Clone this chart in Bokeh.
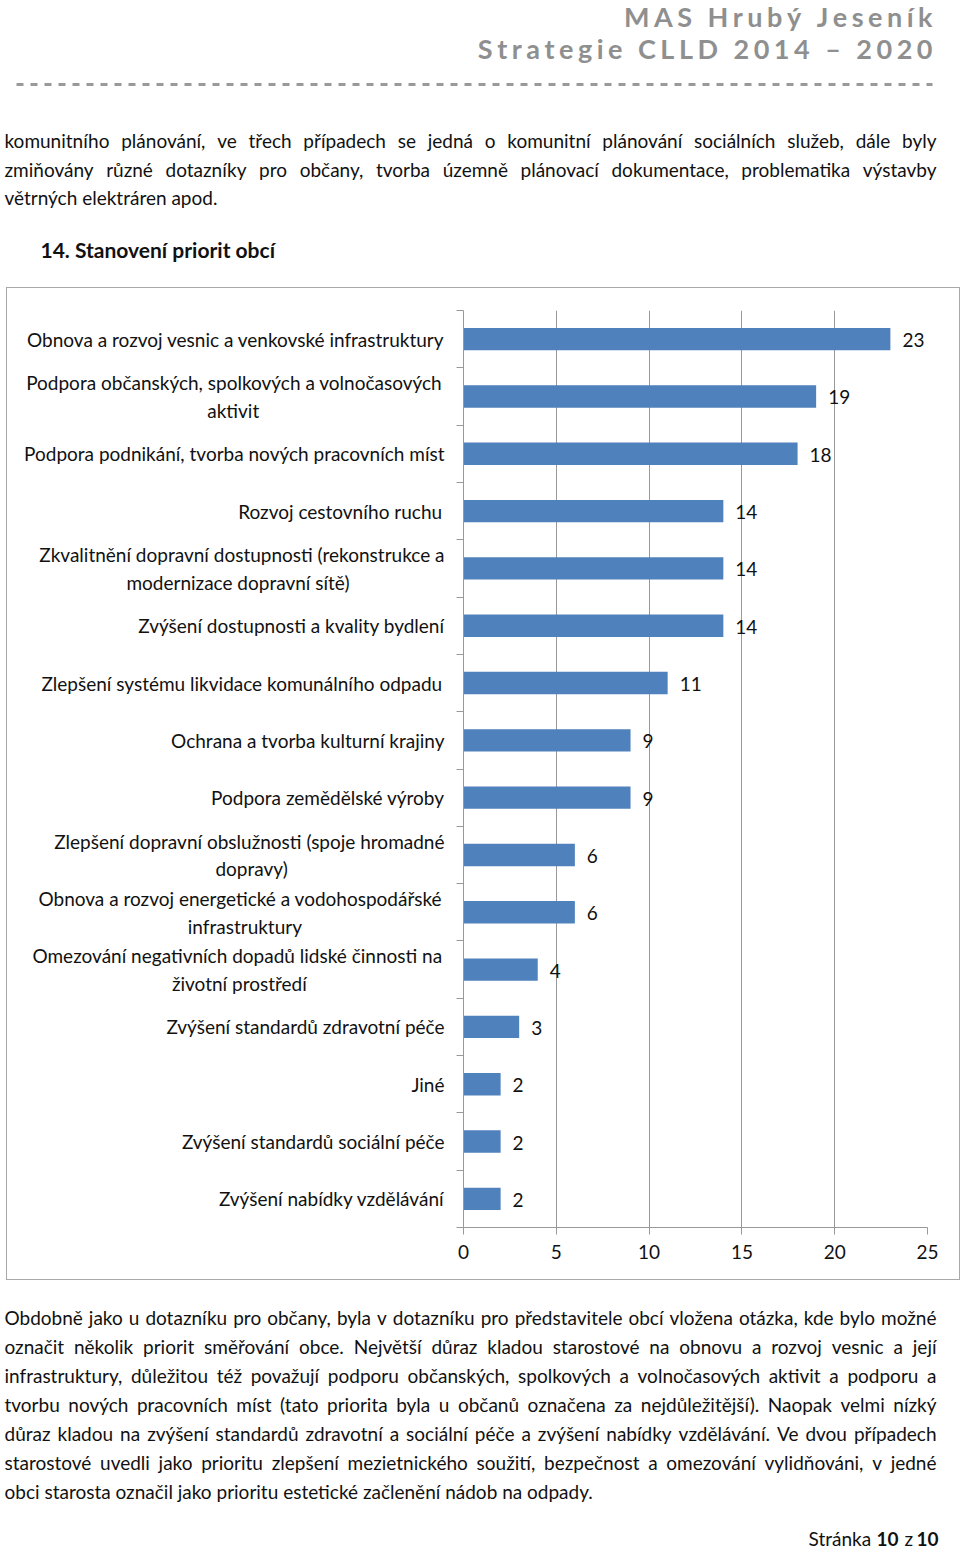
from bokeh.plotting import figure
from bokeh.layouts import column, row
from bokeh.models import (Range1d, FixedTicker, LinearAxis, ColumnDataSource, Grid, Spacer,
                          CustomJSTransform)
from bokeh.transform import transform
from bokeh.core.properties import value
from bokeh.embed import file_html
from bokeh.resources import INLINE

FONT = "Lato"
INK = "#111111"
GRAY = "#999999"

# ---------------- data ----------------
categories = [
    "Obnova a rozvoj vesnic a venkovské infrastruktury",
    "Podpora občanských, spolkových a volnočasových\naktivit",
    "Podpora podnikání, tvorba nových pracovních míst",
    "Rozvoj cestovního ruchu",
    "Zkvalitnění dopravní dostupnosti (rekonstrukce a\nmodernizace dopravní sítě)",
    "Zvýšení dostupnosti a kvality bydlení",
    "Zlepšení systému likvidace komunálního odpadu",
    "Ochrana a tvorba kulturní krajiny",
    "Podpora zemědělské výroby",
    "Zlepšení dopravní obslužnosti (spoje hromadné\ndopravy)",
    "Obnova a rozvoj energetické a vodohospodářské\ninfrastruktury",
    "Omezování negativních dopadů lidské činnosti na\nživotní prostředí",
    "Zvýšení standardů zdravotní péče",
    "Jiné",
    "Zvýšení standardů sociální péče",
    "Zvýšení nabídky vzdělávání",
]
counts = [23, 19, 18, 14, 14, 14, 11, 9, 9, 6, 6, 4, 3, 2, 2, 2]
x_ticks = [0, 5, 10, 15, 20, 25]

header_1 = "MAS Hrubý Jeseník"
header_2 = "Strategie CLLD 2014 – 2020"
intro_lines = [
    "komunitního plánování, ve třech případech se jedná o komunitní plánování sociálních služeb, dále byly",
    "zmiňovány různé dotazníky pro občany, tvorba územně plánovací dokumentace, problematika výstavby",
    "větrných elektráren apod.",
]
section_title = "14. Stanovení priorit obcí"
body_lines = [
    "Obdobně jako u dotazníku pro občany, byla v dotazníku pro představitele obcí vložena otázka, kde bylo možné",
    "označit několik priorit směřování obce. Největší důraz kladou starostové na obnovu a rozvoj vesnic a její",
    "infrastruktury, důležitou též považují podporu občanských, spolkových a volnočasových aktivit a podporu a",
    "tvorbu nových pracovních míst (tato priorita byla u občanů označena za nejdůležitější). Naopak velmi nízký",
    "důraz kladou na zvýšení standardů zdravotní a sociální péče a zvýšení nabídky vzdělávání. Ve dvou případech",
    "starostové uvedli jako prioritu zlepšení mezietnického soužití, bezpečnost a omezování vylidňováni, v jedné",
    "obci starosta označil jako prioritu estetické začlenění nádob na odpady.",
]
footer_parts = ["Stránka", "10", "z", "10"]

# layout only: centre the 2nd line of wrapped labels (trailing padding in px) and a trailing thin gap
EM_EFF = 14.25
second_line_pad = {1: 182, 4: 91, 9: 159, 10: 144, 11: 136}
first_line_gap = {1, 3, 6, 10, 11}


def pad_str(px):
    halves = int(round(px / EM_EFF * 2))
    return "\u2003" * (halves // 2) + ("\u2002" if halves % 2 else "")


def tick_label(i, c):
    lines = c.split("\n")
    if i in first_line_gap:
        lines[0] = lines[0] + "\u2009"
    if len(lines) > 1 and i in second_line_pad:
        lines[1] = lines[1] + pad_str(second_line_pad[i])
    return "\n".join(lines)


def spaced(s):
    return "\u2006".join(s)


def no_align(f):
    try:
        f.frame_align = False
    except Exception:
        pass


def page_fig(y_top, y_bottom):
    f = figure(frame_width=960, frame_height=y_bottom - y_top,
               x_range=Range1d(0, 960), y_range=Range1d(y_bottom, y_top),
               x_axis_location=None, y_axis_location=None, toolbar_location=None,
               output_backend="svg", min_border=0, outline_line_color=None, title=None)
    f.center = []
    no_align(f)
    return f


def put(f, x, y, txt, size="19px", align="left", style="normal", color=INK):
    f.text(x=[x], y=[y], text=[txt], text_font=value(FONT), text_font_size=size,
           text_align=align, text_baseline="middle", text_font_style=style, text_color=color)


JUSTIFY_JS = """
const ctx = document.createElement('canvas').getContext('2d');
ctx.font = font;
const space = ctx.measureText(' ').width;
const n = words.length;
const out = new Float64Array(n);
let i = 0;
while (i < n) {
  let j = i;
  while (j < n && line_id[j] === line_id[i]) j++;
  const w = [];
  let total = 0;
  for (let k = i; k < j; k++) { const m = ctx.measureText(words[k]).width; w.push(m); total += m; }
  const cnt = j - i;
  let gap = (just[i] && cnt > 1) ? (right - left - total) / (cnt - 1) : space;
  if (gap < space * 0.6) gap = space;
  let x = left;
  for (let k = i; k < j; k++) { out[k] = x; x += w[k - i] + gap; }
  i = j;
}
return out;
"""


def paragraph(f, lines, y0, dy, left=4, right=936, size=19):
    words, line_id, just, xs, yy = [], [], [], [], []
    for li, ln in enumerate(lines):
        last = li == len(lines) - 1
        parts = ln.split(" ")
        for k, w in enumerate(parts):
            words.append(w)
            line_id.append(li)
            just.append(0 if last else 1)
            xs.append(left + (right - left) * k / max(len(parts), 1))
            yy.append(y0 + dy * li)
    src = ColumnDataSource(dict(x=xs, y=yy, text=words))
    tr = CustomJSTransform(args=dict(words=words, line_id=line_id, just=just, left=left,
                                     right=right, font=f"{size}px {FONT}"),
                           v_func=JUSTIFY_JS)
    f.text(x=transform("x", tr), y="y", text="text", source=src, text_font=value(FONT),
           text_font_size=f"{size}px", text_align="left", text_baseline="middle", text_color=INK)


# ---------------- top of page ----------------
top = page_fig(0, 287)
put(top, 932, 16, spaced(header_1), size="27px", align="right", style="bold", color="#8f8f8f")
put(top, 932, 48, spaced(header_2), size="27px", align="right", style="bold", color="#8f8f8f")
top.line(x=[16, 932], y=[84, 84], line_width=3, line_dash="7 7", line_color="#9a9a9a")
paragraph(top, intro_lines, 140, 28.7)
put(top, 40, 249, section_title, size="21px", style="bold")

# ---------------- chart ----------------
ys = [i + 0.5 for i in range(len(categories))]
src = ColumnDataSource(dict(y=ys, v=counts, lab=[str(c) for c in counts]))

p = figure(frame_width=462, frame_height=915,
           x_range=Range1d(0, 25), y_range=Range1d(len(categories), 0),
           x_axis_location=None, y_axis_location=None, toolbar_location=None,
           output_backend="svg", title=None,
           min_border_left=456, min_border_right=34, min_border_top=22, min_border_bottom=54,
           outline_line_color=None)
p.center = []          # drop the default grids (only vertical grid lines are wanted)
p.styles = {"border": "1.5px solid #a8a8a8"}
no_align(p)

p.add_layout(Grid(dimension=0, ticker=FixedTicker(ticks=x_ticks), grid_line_color=GRAY))

p.hbar(y="y", left=0, right="v", height=0.39, fill_color="#4F81BD", line_color=None, source=src)
p.text(x="v", y="y", text="lab", x_offset=12, y_offset=1, text_align="left", text_baseline="middle",
       text_font=value(FONT), text_font_size="19px", text_color=INK, source=src)

xaxis = LinearAxis(ticker=FixedTicker(ticks=x_ticks))
xaxis.axis_line_color = GRAY
xaxis.major_tick_line_color = GRAY
xaxis.major_tick_out = 7
xaxis.major_tick_in = 0
xaxis.minor_tick_line_color = None
xaxis.major_label_text_font = FONT
xaxis.major_label_text_font_size = "19px"
xaxis.major_label_text_color = INK
xaxis.major_label_standoff = 10
p.add_layout(xaxis, "below")

yaxis = LinearAxis(ticker=FixedTicker(ticks=ys, minor_ticks=list(range(len(categories) + 1))))
yaxis.major_label_overrides = {y: tick_label(i, c) for i, (y, c) in enumerate(zip(ys, categories))}
yaxis.axis_line_color = GRAY
yaxis.major_tick_line_color = None
yaxis.major_tick_out = 0
yaxis.major_tick_in = 0
yaxis.minor_tick_line_color = GRAY
yaxis.minor_tick_out = 7
yaxis.minor_tick_in = 0
yaxis.major_label_text_font = FONT
yaxis.major_label_text_font_size = "19px"
yaxis.major_label_text_color = INK
yaxis.major_label_standoff = 12
p.add_layout(yaxis, "left")

# ---------------- bottom of page ----------------
bot = page_fig(1278, 1549)
paragraph(bot, body_lines, 1315, 29)
put(bot, 808, 1536, footer_parts[0])
put(bot, 876, 1536, footer_parts[1], style="bold")
put(bot, 904, 1536, footer_parts[2])
put(bot, 916, 1536, footer_parts[3], style="bold")

page = column(top, row(Spacer(width=6, height=991), p, spacing=0), bot, spacing=0)
open("out.html", "w").write(file_html(page, INLINE))
